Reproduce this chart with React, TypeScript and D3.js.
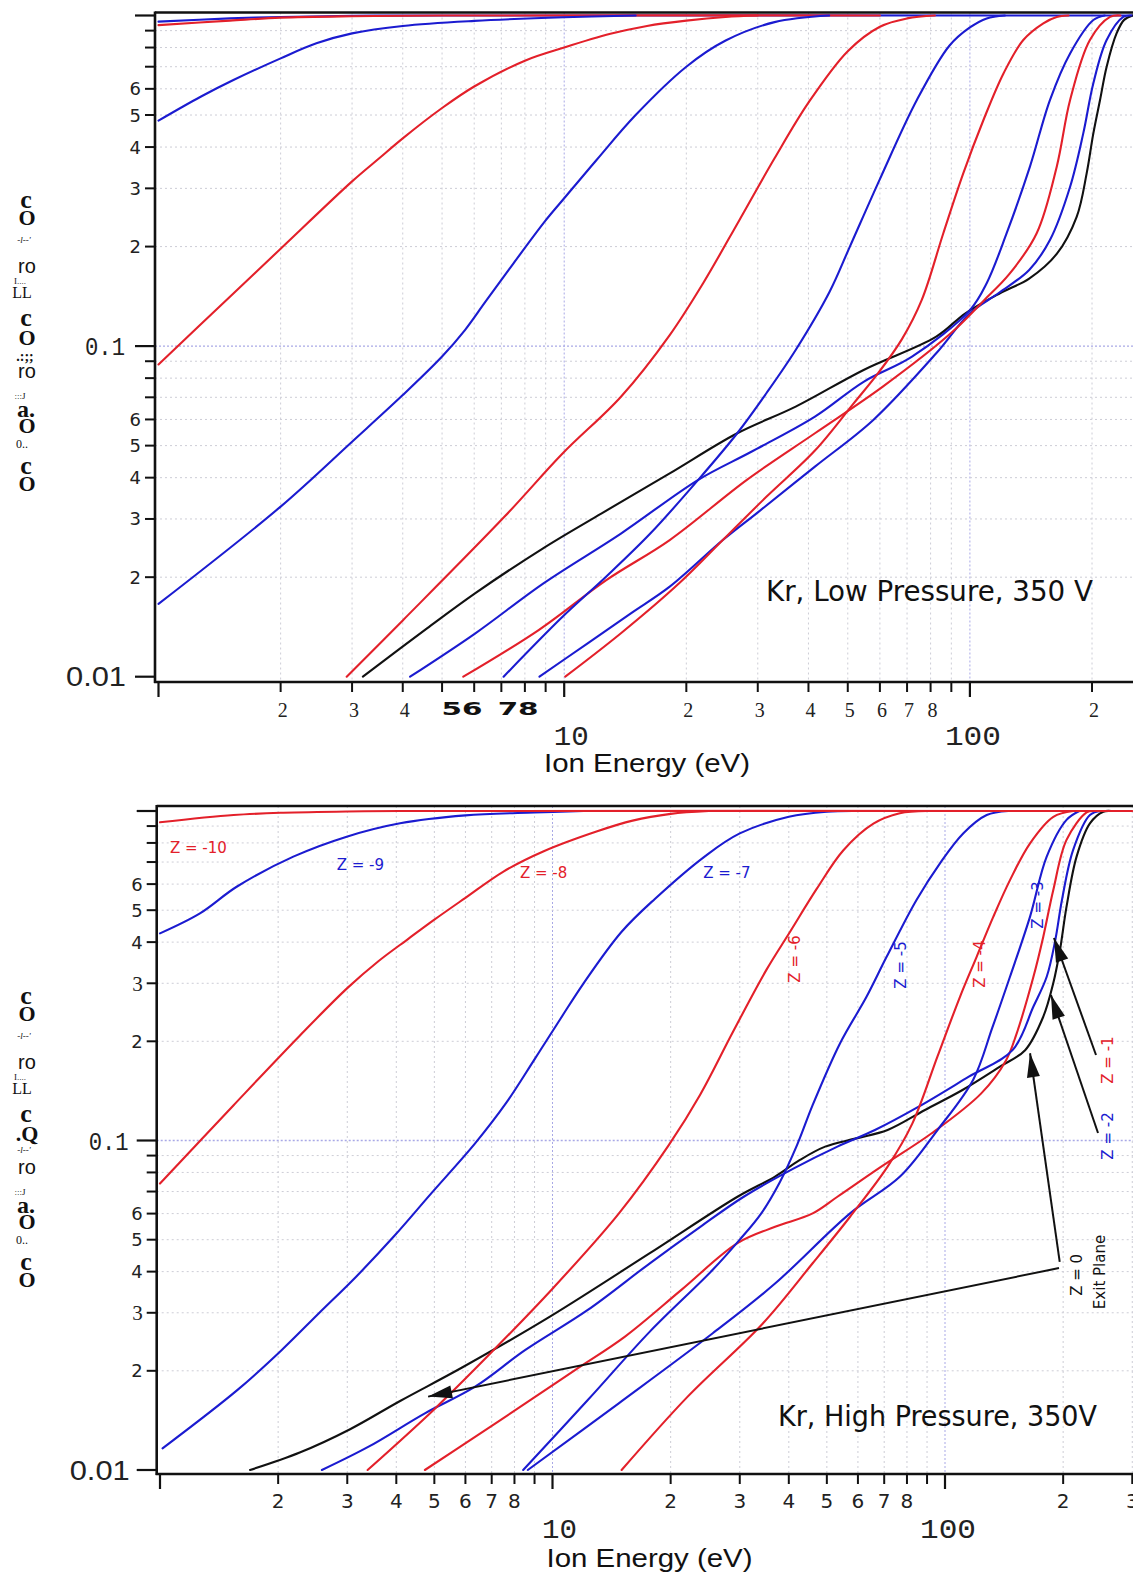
import React from 'react';
import * as d3 from 'd3';

type Pt = [number, number];

// ---------------- DATA : Kr, Low Pressure (top panel) ----------------
const lowP_blue1: Pt[] = [[1, 0.958], [1.5, 0.98], [2, 0.99], [3, 0.998], [5, 1], [252, 1]];
const lowP_red1: Pt[] = [[1, 0.935], [1.5, 0.965], [2, 0.985], [3, 0.995], [5, 1], [60, 1]];
const lowP_blue2: Pt[] = [[1, 0.481], [1.27, 0.568], [1.53, 0.638], [2, 0.742], [2.45, 0.824], [3, 0.883], [4, 0.93], [6, 0.963], [10, 0.988], [15, 1]];
const lowP_red3: Pt[] = [[1, 0.088], [1.5, 0.141], [2, 0.197], [3, 0.315], [3.5, 0.37], [4, 0.425], [5, 0.525], [6, 0.61], [8, 0.73], [10, 0.8], [13, 0.88], [16, 0.93], [20, 0.965], [25, 0.99], [30, 1]];
const lowP_blue4: Pt[] = [[1, 0.0166], [2, 0.0327], [3, 0.0514], [4, 0.0711], [5, 0.093], [5.7, 0.112], [6.39, 0.136], [7.5, 0.178], [9, 0.24], [10, 0.28], [12, 0.365], [15, 0.5], [20, 0.7], [25, 0.84], [33, 0.955], [45, 1]];
const lowP_red5: Pt[] = [[2.91, 0.01], [4, 0.0148], [7.13, 0.0305], [9.92, 0.0474], [13.8, 0.0703], [18.2, 0.108], [22, 0.155], [27, 0.24], [33, 0.37], [40, 0.545], [50, 0.78], [60, 0.925], [70, 0.98], [82, 1]];
const lowP_black: Pt[] = [[3.19, 0.01], [4.59, 0.014], [6.04, 0.0179], [8.89, 0.0245], [12.37, 0.0312], [18.2, 0.0412], [26.7, 0.0545], [37.2, 0.0656], [54.7, 0.0847], [82.6, 0.1068], [97.5, 0.1257], [118.6, 0.1445], [140, 0.16], [163.7, 0.19], [183.3, 0.246], [194, 0.333], [201.5, 0.44], [209.3, 0.555], [217.3, 0.7], [230, 0.884], [240, 0.97], [252, 1]];
const lowP_blue7: Pt[] = [[4.17, 0.01], [6.04, 0.01353], [8.89, 0.01916], [13.8, 0.0271], [21.4, 0.0394], [29, 0.048], [41.5, 0.0612], [54.7, 0.078], [72, 0.0929], [100, 0.1285], [110, 0.155], [123.2, 0.2195], [140.6, 0.349], [157.5, 0.555], [176.6, 0.768], [201.5, 0.969], [215, 1]];
const lowP_red8: Pt[] = [[5.64, 0.01], [8.65, 0.01384], [12.7, 0.0196], [18.2, 0.0259], [28.2, 0.0394], [41.5, 0.0545], [61, 0.0754], [89.7, 0.1093], [108, 0.137], [125, 0.165], [146.1, 0.2195], [163.7, 0.349], [176.6, 0.555], [197.6, 0.843], [221.5, 0.99], [235, 1]];
const lowP_blue9: Pt[] = [[7.09, 0.01], [9.92, 0.0152], [12.7, 0.0201], [16.3, 0.0271], [21.4, 0.0394], [26.7, 0.0545], [31.5, 0.072], [37.2, 0.0973], [45.1, 0.146], [50.6, 0.2], [60, 0.32], [74, 0.555], [89, 0.81], [100, 0.92], [110, 0.98], [122, 1]];
const lowP_blue10: Pt[] = [[8.69, 0.01], [11.4, 0.0126], [14.6, 0.01555], [18.2, 0.01872], [24.6, 0.0259], [29.8, 0.0312], [41.5, 0.0432], [57.8, 0.0598], [82.6, 0.0951], [100, 0.1257], [118, 0.145], [140, 0.17], [157.5, 0.2094], [176.6, 0.3035], [190.3, 0.44], [201.5, 0.624], [217.3, 0.843], [238.8, 0.99], [250, 1]];
const lowP_red11: Pt[] = [[10.06, 0.01], [13.8, 0.01353], [19.2, 0.01916], [24.6, 0.0259], [31.5, 0.035], [41.5, 0.0483], [51.7, 0.0671], [59.4, 0.0828], [68, 0.105], [76.1, 0.138], [86, 0.2195], [96.3, 0.333], [108, 0.483], [121, 0.668], [135.4, 0.843], [151.7, 0.947], [163.7, 0.99], [175, 1]];

// ---------------- DATA : Kr, High Pressure (bottom panel) ----------------
const highP_zm10: Pt[] = [[1, 0.924], [1.54, 0.972], [2.06, 0.988], [3, 0.997], [4.08, 1], [300, 1]];
const highP_zm9: Pt[] = [[1, 0.4253], [1.264, 0.489], [1.568, 0.589], [2.186, 0.727], [2.99, 0.836], [4.09, 0.918], [6, 0.97], [9, 0.99], [12, 1]];
const highP_zm8: Pt[] = [[1, 0.074], [1.54, 0.128], [2.27, 0.208], [3, 0.29], [3.6, 0.35], [4.3, 0.41], [5, 0.468], [6, 0.545], [7.5, 0.655], [9.5, 0.755], [13, 0.868], [16, 0.935], [20, 0.98], [25, 1]];
const highP_zm7: Pt[] = [[1.015, 0.01163], [1.576, 0.0175], [2.04, 0.0231], [2.54, 0.0299], [3.16, 0.0386], [3.94, 0.0511], [4.91, 0.0691], [6.35, 0.098], [7.62, 0.13], [8.99, 0.176], [10.5, 0.235], [12, 0.3], [15, 0.43], [18.2, 0.54], [24.5, 0.73], [30, 0.855], [40, 0.96], [50, 0.995], [60, 1]];
const highP_zm6: Pt[] = [[3.38, 0.01], [5, 0.0153], [7, 0.0228], [10, 0.0355], [14.75, 0.06], [19.8, 0.097], [23.8, 0.138], [28.9, 0.215], [35.1, 0.33], [40.3, 0.43], [47.1, 0.58], [55.1, 0.76], [65.7, 0.915], [76.7, 0.984], [90, 1]];
const highP_zm5: Pt[] = [[8.42, 0.01], [12.3, 0.0163], [17.7, 0.0263], [25.6, 0.0405], [30, 0.05], [34, 0.06], [38, 0.075], [42, 0.097], [46, 0.128], [54, 0.197], [63.1, 0.273], [71, 0.361], [84.6, 0.537], [97.1, 0.694], [111.4, 0.856], [127.7, 0.972], [145, 1]];
const highP_zm4: Pt[] = [[15, 0.01], [22.1, 0.0167], [34.3, 0.0278], [46, 0.0424], [57.3, 0.0587], [71.4, 0.0833], [82.6, 0.1127], [95.7, 0.18], [109.2, 0.273], [120.4, 0.361], [132.8, 0.478], [146.4, 0.617], [164.7, 0.798], [188.8, 0.96], [212, 1]];
const highP_zm3: Pt[] = [[8.65, 0.01], [14.75, 0.01594], [25.6, 0.026], [36.9, 0.0368], [57.3, 0.0601], [76.8, 0.0777], [95.7, 0.1076], [118, 0.153], [132, 0.22], [146.4, 0.314], [164.7, 0.478], [181.6, 0.727], [204, 0.94], [220, 1]];
const highP_zm2: Pt[] = [[2.585, 0.01], [3.4, 0.01177], [4.73, 0.01486], [6.35, 0.0179], [8.51, 0.0231], [12.3, 0.0306], [17.7, 0.0424], [23.8, 0.0547], [30.7, 0.0675], [41.2, 0.0823], [53.2, 0.0958], [66.3, 0.1076], [85.7, 0.1267], [115, 0.1562], [148.6, 0.188], [168, 0.255], [181.6, 0.314], [191, 0.406], [198.6, 0.537], [212, 0.761], [234, 0.972], [250, 1]];
const highP_zm1: Pt[] = [[4.73, 0.01], [6.35, 0.0126], [8.51, 0.0159], [11.41, 0.0201], [15.3, 0.0254], [21.3, 0.0352], [29.6, 0.0488], [36.9, 0.0547], [46, 0.0601], [53.2, 0.0675], [68.8, 0.0833], [92.3, 0.105], [123.7, 0.139], [143, 0.175], [152, 0.21], [168, 0.314], [178, 0.4155], [188.7, 0.575], [204, 0.817], [229.5, 0.99], [240, 1]];
const highP_z0: Pt[] = [[1.696, 0.01], [2.27, 0.0113], [3.05, 0.0133], [4.09, 0.0162], [5.9, 0.0205], [9.85, 0.0292], [17.7, 0.0455], [29.6, 0.0675], [36.9, 0.0777], [42.7, 0.0873], [49.5, 0.0958], [59.4, 0.1015], [71.4, 0.1076], [88.9, 0.1238], [110.8, 0.1423], [138, 0.1675], [160, 0.188], [178, 0.2376], [188.7, 0.3], [196.3, 0.3786], [204, 0.5125], [216.4, 0.727], [234, 0.917], [253, 0.995], [265, 1]];

// ---------------- TICKS ----------------
const xMajorTicks = [1, 10, 100];
const xMinorTicks = [2, 3, 4, 5, 6, 7, 8, 9, 20, 30, 40, 50, 60, 70, 80, 90, 200, 300];
const yMajorTicks = [0.01, 0.1, 1];
const yMinorTicks = [0.02, 0.03, 0.04, 0.05, 0.06, 0.07, 0.08, 0.09, 0.2, 0.3, 0.4, 0.5, 0.6, 0.7, 0.8, 0.9];
const yTickLabelValues = [0.02, 0.03, 0.04, 0.05, 0.06, 0.2, 0.3, 0.4, 0.5, 0.6];
const yTickLabelText = ['2', '3', '4', '5', '6', '2', '3', '4', '5', '6'];
const lowPXLabelValues = [2, 3, 4, 5.6, 7.7, 20, 30, 40, 50, 60, 70, 80, 200];
const lowPXLabelText = ['2', '3', '4', '56', '78', '2', '3', '4', '5', '6', '7', '8', '2'];
const highPXLabelValues = [2, 3, 4, 5, 6, 7, 8, 20, 30, 40, 50, 60, 70, 80, 200, 300];
const highPXLabelText = ['2', '3', '4', '5', '6', '7', '8', '2', '3', '4', '5', '6', '7', '8', '2', '3'];
const decadeLabelValues = [10, 100];
const decadeLabelText = ['10', '100'];

const RED = '#e3202a';
const BLUE = '#1b1bd0';
const BLACK = '#111111';

const SERIF = "'Liberation Serif','DejaVu Serif',serif";
const SANS = "'DejaVu Sans',Verdana,sans-serif";
const ARIAL = "'Liberation Sans',Arial,sans-serif";
const MONO = "'Liberation Mono','DejaVu Sans Mono',monospace";
const NARROW = "'Liberation Sans Narrow','DejaVu Sans Condensed','Liberation Sans',sans-serif";

const W = 1133;
const H = 1579;

// garbled vertical axis label tokens (offset below the y=1 position)
const yLabelTokensTop = [
  { t: 'c', dy: 192.5, k: 'c' }, { t: 'O', dy: 209.5, k: 'O' }, { t: "-l--'", dy: 227.5, k: 'tiny' },
  { t: 'ro', dy: 257.5, k: 'ro' }, { t: 'I....', dy: 268.5, k: 'tiny2' }, { t: 'LL', dy: 282.5, k: 'LL' },
  { t: 'c', dy: 310.5, k: 'c' }, { t: 'O', dy: 329.5, k: 'O' }, { t: '.:;;', dy: 345.5, k: 'dots' },
  { t: 'ro', dy: 362.5, k: 'ro' }, { t: ':::J', dy: 383.5, k: 'tiny2' }, { t: 'a.', dy: 401.5, k: 'a' },
  { t: 'O', dy: 417.5, k: 'O' }, { t: '0..', dy: 432.5, k: 'small' }, { t: 'c', dy: 458.5, k: 'c' },
  { t: 'O', dy: 475.5, k: 'O' },
];
const yLabelTokensBottom = yLabelTokensTop.map((d, i) =>
  i === 7 ? { t: '.Q', dy: 330, k: 'O' } : i === 8 ? { t: "-l--'", dy: 342, k: 'tiny' } : d);

const tokenStyle: Record<string, any> = {
  c: { fontFamily: SERIF, fontSize: 26, fontWeight: 700, x: 26 },
  O: { fontFamily: SERIF, fontSize: 22, fontWeight: 700, x: 27 },
  tiny: { fontFamily: SERIF, fontSize: 9, fontStyle: 'italic', x: 24 },
  tiny2: { fontFamily: SERIF, fontSize: 9, x: 20 },
  ro: { fontFamily: ARIAL, fontSize: 20, x: 27 },
  LL: { fontFamily: SERIF, fontSize: 16, x: 22 },
  dots: { fontFamily: SERIF, fontSize: 14, fontWeight: 700, x: 25 },
  a: { fontFamily: SERIF, fontSize: 24, fontWeight: 700, x: 26 },
  small: { fontFamily: SERIF, fontSize: 12, x: 22 },
};

type Series = { data: Pt[]; color: string };

const lowSeries: Series[] = [
  { data: lowP_blue1, color: BLUE }, { data: lowP_red1, color: RED },
  { data: lowP_black, color: BLACK },
  { data: lowP_blue10, color: BLUE }, { data: lowP_red8, color: RED }, { data: lowP_blue7, color: BLUE },
  { data: lowP_red11, color: RED }, { data: lowP_blue9, color: BLUE }, { data: lowP_red5, color: RED },
  { data: lowP_blue4, color: BLUE }, { data: lowP_red3, color: RED }, { data: lowP_blue2, color: BLUE },
];
const highSeries: Series[] = [
  { data: highP_z0, color: BLACK }, { data: highP_zm1, color: RED }, { data: highP_zm2, color: BLUE },
  { data: highP_zm3, color: BLUE }, { data: highP_zm4, color: RED }, { data: highP_zm5, color: BLUE },
  { data: highP_zm6, color: RED }, { data: highP_zm7, color: BLUE }, { data: highP_zm8, color: RED },
  { data: highP_zm9, color: BLUE }, { data: highP_zm10, color: RED },
];

// annotation labels for the high-pressure panel (data coordinates)
const zLabels = [
  { t: 'Z = -10', e: 1.06, f: 0.746, c: RED, rot: false },
  { t: 'Z = -9', e: 2.82, f: 0.662, c: BLUE, rot: false },
  { t: 'Z = -8', e: 8.26, f: 0.626, c: RED, rot: false },
  { t: 'Z = -7', e: 24.2, f: 0.626, c: BLUE, rot: false },
  { t: 'Z = -6', e: 41.5, f: 0.3556, c: RED, rot: true },
  { t: 'Z = -5', e: 77.3, f: 0.341, c: BLUE, rot: true },
  { t: 'Z = -4', e: 122.8, f: 0.343, c: RED, rot: true },
  { t: 'Z = -3', e: 172.6, f: 0.5185, c: BLUE, rot: true },
  { t: 'Z = -1', e: 260.2, f: 0.1755, c: RED, rot: true },
  { t: 'Z = -2', e: 260.2, f: 0.1032, c: BLUE, rot: true },
  { t: 'Z = 0', e: 216.8, f: 0.0391, c: BLACK, rot: true },
  { t: 'Exit Plane', e: 248, f: 0.0399, c: BLACK, rot: true },
];
const arrows = [
  { from: [195.2, 0.041], to: [4.82, 0.0167] },
  { from: [196, 0.0428], to: [164.7, 0.184] },
  { from: [245.4, 0.1054], to: [186.2, 0.2764] },
  { from: [242.5, 0.1818], to: [189.5, 0.4117] },
];

type PanelCfg = {
  id: string;
  x0: number; xDec: number;
  yOne: number; yDec: number;
  axisX: number; axisY: number; frameY: number;
  series: Series[];
  xLabelValues: number[]; xLabelText: string[];
  lowStyle: boolean;
  title: string; titleX: number; titleY: number; titleLen: number;
  xTitleY: number; smallLabelY: number; decadeLabelY: number;
};

const panels: PanelCfg[] = [
  {
    id: 'low', x0: 158.5, xDec: 405.7, yOne: 15.5, yDec: 330.6, axisX: 155, axisY: 682, frameY: 12.5,
    series: lowSeries, xLabelValues: lowPXLabelValues, xLabelText: lowPXLabelText, lowStyle: true,
    title: 'Kr, Low Pressure, 350 V', titleX: 766, titleY: 601, titleLen: 327,
    xTitleY: 772, smallLabelY: 717, decadeLabelY: 745,
  },
  {
    id: 'high', x0: 160, xDec: 392.5, yOne: 811, yDec: 329.5, axisX: 156.7, axisY: 1474, frameY: 806,
    series: highSeries, xLabelValues: highPXLabelValues, xLabelText: highPXLabelText, lowStyle: false,
    title: 'Kr, High Pressure, 350V', titleX: 778, titleY: 1426, titleLen: 319,
    xTitleY: 1567, smallLabelY: 1508, decadeLabelY: 1538,
  },
];

function Panel({ p }: { p: PanelCfg }) {
  const x = d3.scaleLog().domain([1, 100]).range([p.x0, p.x0 + 2 * p.xDec]);
  const y = d3.scaleLog().domain([0.01, 1]).range([p.yOne + 2 * p.yDec, p.yOne]);
  const line = d3.line<Pt>().x(d => x(d[0])).y(d => y(d[1])).curve(d3.curveCatmullRom.alpha(0.5));
  const clipId = `clip-${p.id}`;
  const xGrid = [...xMinorTicks, 10, 100].filter(v => x(v) < W);
  const yGrid = [...yMinorTicks, 0.1];
  const isDecade = (v: number) => v === 10 || v === 100 || v === 0.1;

  const arrowHead = (x1: number, y1: number, x2: number, y2: number) => {
    const dx = x2 - x1, dy = y2 - y1;
    const L = Math.hypot(dx, dy);
    const ux = dx / L, uy = dy / L;
    const len = 24, hw = 6.5;
    const bx = x2 - ux * len, by = y2 - uy * len;
    return `${x2},${y2} ${bx - uy * hw},${by + ux * hw} ${bx + uy * hw},${by - ux * hw}`;
  };

  return (
    <g>
      <defs>
        <clipPath id={clipId}>
          <rect x={p.axisX} y={p.frameY} width={W - p.axisX} height={p.axisY - p.frameY} />
        </clipPath>
      </defs>
      <g clipPath={`url(#${clipId})`}>
        {xGrid.map(v => (
          <line key={`gx${v}`} x1={x(v)} x2={x(v)} y1={p.frameY} y2={p.axisY}
            stroke={isDecade(v) ? '#a9a9e6' : '#cdcdd6'} strokeWidth={1}
            strokeDasharray={isDecade(v) ? '2,2' : '2,3'} />
        ))}
        {yGrid.map(v => (
          <line key={`gy${v}`} x1={p.axisX} x2={W} y1={y(v)} y2={y(v)}
            stroke={isDecade(v) ? '#a9a9e6' : '#cdcdd6'} strokeWidth={isDecade(v) ? 1.3 : 1}
            strokeDasharray={isDecade(v) ? '2,2' : '2,3'} />
        ))}
      </g>
      <g clipPath={`url(#${clipId})`}>
        {p.series.map((s, i) => (
          <path key={`s${i}`} d={line(s.data) || ''} fill="none" stroke={s.color} strokeWidth={2.1}
            strokeLinejoin="round" strokeLinecap="round" />
        ))}
      </g>
      <line x1={p.axisX} x2={W} y1={p.frameY} y2={p.frameY} stroke="#111" strokeWidth={2.4} />
      <line x1={p.axisX} x2={p.axisX} y1={p.frameY - 1} y2={p.axisY + 1} stroke="#111" strokeWidth={2.6} />
      <line x1={p.axisX - 1} x2={W} y1={p.axisY} y2={p.axisY} stroke="#111" strokeWidth={2.4} />
      {yMajorTicks.map(v => (
        <line key={`ymj${v}`} x1={p.axisX - 20} x2={p.axisX} y1={y(v)} y2={y(v)} stroke="#111" strokeWidth={2.2} />
      ))}
      {yMinorTicks.map(v => (
        <line key={`ymn${v}`} x1={p.axisX - 10} x2={p.axisX} y1={y(v)} y2={y(v)} stroke="#111" strokeWidth={2} />
      ))}
      {xMajorTicks.map(v => (
        <line key={`xmj${v}`} x1={x(v)} x2={x(v)} y1={p.axisY} y2={p.axisY + 15} stroke="#111" strokeWidth={2.2} />
      ))}
      {xMinorTicks.filter(v => x(v) < W).map(v => (
        <line key={`xmn${v}`} x1={x(v)} x2={x(v)} y1={p.axisY} y2={p.axisY + 10} stroke="#111" strokeWidth={2} />
      ))}
      {yTickLabelValues.map((v, i) => (
        <text key={`yl${v}`} x={p.axisX - 14} y={y(v)} dy="0.36em" textAnchor="end"
          fontFamily={!p.lowStyle && yTickLabelText[i] === '3' ? SERIF : SANS}
          fontSize={!p.lowStyle && yTickLabelText[i] === '3' ? 21 : 18} fill="#222">{yTickLabelText[i]}</text>
      ))}
      <text x={p.axisX - 30 + (p.lowStyle ? 0 : 2)} y={y(0.1)} dy="0.36em" textAnchor="end" fontFamily={MONO}
        fontSize={25} fill="#222" textLength={40} lengthAdjust="spacingAndGlyphs">0.1</text>
      <text x={p.axisX - 29 + (p.lowStyle ? 0 : 2)} y={y(0.01)} dy="0.36em" textAnchor="end" fontFamily={ARIAL}
        fontSize={27} fill="#222" textLength={60} lengthAdjust="spacingAndGlyphs">0.01</text>
      {p.xLabelValues.filter(v => x(v) < W + 10).map((v, i) => {
        const t = p.xLabelText[i];
        const bold = t.length === 2;
        if (p.lowStyle) {
          return bold ? (
            <text key={`xl${v}`} x={x(v)} y={p.smallLabelY - 2} textAnchor="middle" fontFamily={SANS}
              fontWeight={700} fontSize={17} fill="#111" textLength={41} lengthAdjust="spacingAndGlyphs">{t}</text>
          ) : (
            <text key={`xl${v}`} x={x(v) + 2} y={p.smallLabelY} textAnchor="middle" fontFamily={SERIF}
              fontSize={20} fill="#222">{t}</text>
          );
        }
        return (
          <text key={`xl${v}`} x={x(v)} y={p.smallLabelY} textAnchor="middle" fontFamily={SANS}
            fontSize={20} fill="#222">{t}</text>
        );
      })}
      {decadeLabelValues.map((v, i) => (
        <text key={`dl${v}`} x={x(v) + (v === 10 ? 7 : 3)} y={p.decadeLabelY} textAnchor="middle" fontFamily={MONO}
          fontSize={27} fill="#222" textLength={v === 10 ? 35 : 56} lengthAdjust="spacingAndGlyphs">{decadeLabelText[i]}</text>
      ))}
      <text x={(p.lowStyle ? 647 : 649.5)} y={p.xTitleY} textAnchor="middle" fontFamily={ARIAL} fontSize={25}
        fill="#111" textLength={206} lengthAdjust="spacingAndGlyphs">Ion Energy (eV)</text>
      <text x={p.titleX} y={p.titleY} fontFamily={NARROW} fontSize={29} fill="#111"
        textLength={p.titleLen} lengthAdjust="spacingAndGlyphs">{p.title}</text>
      {(p.lowStyle ? yLabelTokensTop : yLabelTokensBottom).map((tk, i) => {
        const st = tokenStyle[tk.k];
        return (
          <text key={`tk${i}`} x={st.x} y={p.yOne + tk.dy} textAnchor="middle" fontFamily={st.fontFamily}
            fontSize={st.fontSize} fontWeight={st.fontWeight || 400} fontStyle={st.fontStyle || 'normal'}
            fill="#111">{tk.t}</text>
        );
      })}
      {!p.lowStyle && zLabels.map((l, i) => {
        const px = x(l.e), py = y(l.f);
        return l.rot ? (
          <text key={`zl${i}`} transform={`translate(${px},${py}) rotate(-90)`} textAnchor="middle" dy="0.35em"
            fontFamily={SANS} fontSize={15} fill={l.c}>{l.t}</text>
        ) : (
          <text key={`zl${i}`} x={px} y={py} fontFamily={SANS} fontSize={15} fill={l.c}>{l.t}</text>
        );
      })}
      {!p.lowStyle && arrows.map((a, i) => {
        const x1 = x(a.from[0]), y1 = y(a.from[1]), x2 = x(a.to[0]), y2 = y(a.to[1]);
        return (
          <g key={`ar${i}`}>
            <line x1={x1} y1={y1} x2={x2} y2={y2} stroke="#111" strokeWidth={2} />
            <polygon points={arrowHead(x1, y1, x2, y2)} fill="#111" />
          </g>
        );
      })}
    </g>
  );
}

export default function App() {
  return (
    <svg width={W} height={H} viewBox={`0 0 ${W} ${H}`}
      style={{ position: 'absolute', left: 0, top: 0, display: 'block', background: '#fff' }}>
      <rect x={0} y={0} width={W} height={H} fill="#fff" />
      {panels.map(p => <Panel key={p.id} p={p} />)}
    </svg>
  );
}
